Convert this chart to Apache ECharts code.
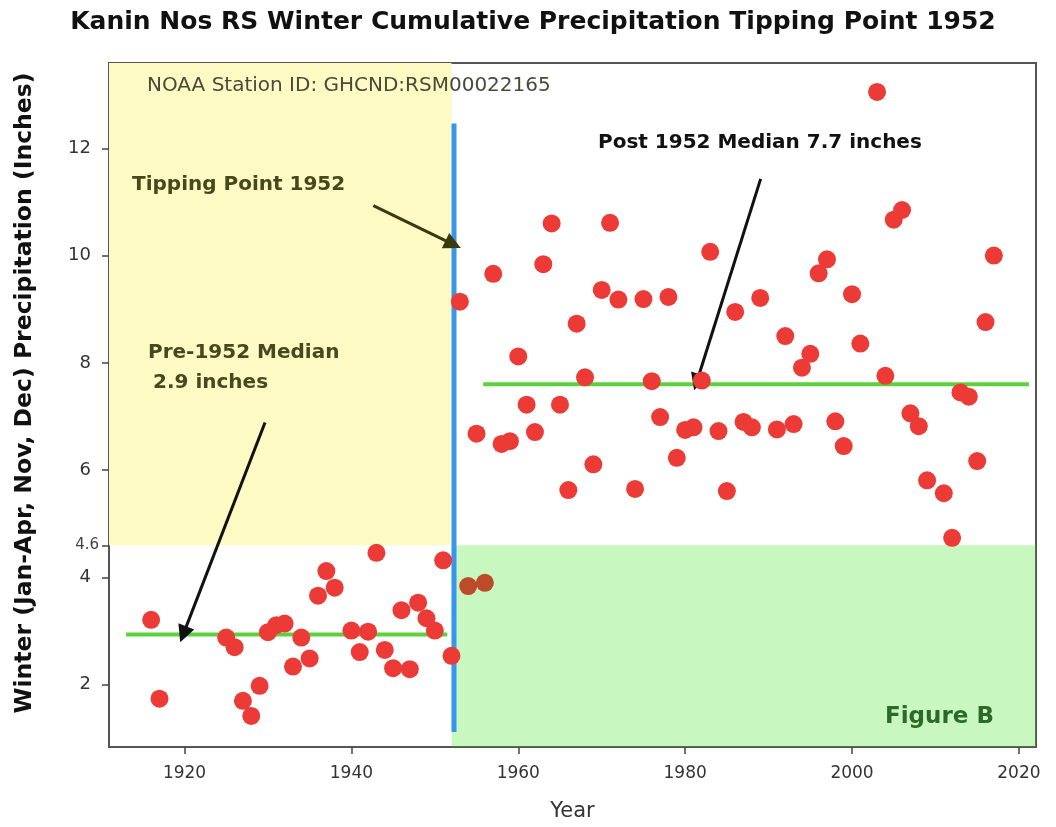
<!DOCTYPE html>
<html>
<head>
<meta charset="utf-8">
<script src="https://cdn.jsdelivr.net/npm/echarts@6/dist/echarts.min.js"></script>
<style>
html,body{margin:0;padding:0;background:#fff;}
#chart{width:1056px;height:827px;}
</style>
</head>
<body>
<div id="chart"></div>
<script>
// ---- data ----
const yearsRed = [1916,1917,1925,1926,1927,1928,1929,1930,1931,1932,1933,1934,1935,1936,1937,1938,1940,1941,1942,1943,1944,1945,1946,1947,1948,1949,1950,1951,1952,
  1953,1955,1957,1958,1959,1960,1961,1962,1963,1964,1965,1966,1967,1968,1969,1970,1971,1972,1974,1975,1976,1977,1978,1979,1980,1981,1982,1983,1984,1985,1986,1987,1988,1989,
  1991,1992,1993,1994,1995,1996,1997,1998,1999,2000,2001,2003,2004,2005,2006,2007,2008,2009,2011,2012,2013,2014,2015,2016,2017];
const precipRed = [3.21,1.74,2.88,2.70,1.70,1.42,1.98,2.98,3.11,3.14,2.34,2.88,2.49,3.66,4.12,3.81,3.01,2.61,2.99,4.46,2.65,2.31,3.39,2.29,3.53,3.24,3.01,4.32,2.54,
  9.14,6.68,9.66,6.49,6.54,8.12,7.22,6.71,9.84,10.60,7.22,5.63,8.73,7.73,6.11,9.36,10.61,9.18,5.65,9.19,7.66,6.99,9.23,6.23,6.75,6.80,7.67,10.07,6.73,5.61,8.95,6.90,6.80,9.21,
  6.76,8.50,6.86,7.91,8.17,9.67,9.93,6.91,6.45,9.28,8.36,13.05,7.76,10.67,10.85,7.06,6.82,5.81,5.57,4.74,7.45,7.37,6.17,8.76,10.00];
const yearsBrown = [1954,1956];
const precipBrown = [3.84,3.90];

const tippingYear = 1952;
const tippingLineX = 1952.3;
const tippingLineRange = [1.12, 12.46];
const threshold = 4.6;
const preMedian = {from:1913, to:1951.5, value:2.935};
const postMedian = {from:1955.8, to:2021.2, value:7.6};

const xTicks = [1920,1940,1960,1980,2000,2020];
const yTicks = [2,4,6,8,10,12];
const yExtraTick = [4.6];

const X_MIN = 1910.95, X_MAX = 2022.05;
const Y_MIN = 0.84, Y_MAX = 13.59;

// arrows [tail, head] in data coordinates
const arrowTipping = [[1942.63,10.93],[1952.2,10.21]];
const arrowPre = [[1929.65,6.89],[1919.85,2.94]];
const arrowPost = [[1989.05,11.43],[1981.38,7.64]];

const FONT = '"DejaVu Sans", Verdana, sans-serif';

const chart = echarts.init(document.getElementById('chart'), null, {renderer:'canvas'});

function arrowSeries(arr, color){
  return {
    type:'scatter', data:[], z:7, silent:true,
    markLine:{
      silent:true, animation:false,
      symbol:['none','triangle'], symbolSize:17,
      label:{show:false},
      itemStyle:{color:color},
      lineStyle:{color:color, width:3, type:'solid', opacity:1},
      data:[[{coord:arr[0]},{coord:arr[1]}]]
    }
  };
}

const option = {
  animation:false,
  backgroundColor:'#fff',
  grid:{left:109, right:20, top:63, bottom:77, show:true, borderColor:'#555', borderWidth:2, backgroundColor:'transparent'},
  xAxis:{
    type:'value', min:X_MIN, max:X_MAX,
    name:'Year', nameLocation:'middle', nameGap:54,
    nameTextStyle:{fontFamily:FONT, fontSize:21, color:'#333'},
    axisLine:{show:true, lineStyle:{color:'#555', width:2}},
    axisTick:{show:true, customValues:xTicks, length:7, lineStyle:{color:'#444', width:1.5}},
    axisLabel:{customValues:xTicks, formatter:v=>String(v), fontFamily:FONT, fontSize:17, color:'#333', margin:18},
    splitLine:{show:false}
  },
  yAxis:[{
    type:'value', min:Y_MIN, max:Y_MAX,
    axisLine:{show:true, lineStyle:{color:'#555', width:2}},
    axisTick:{show:true, customValues:yTicks, length:7, lineStyle:{color:'#444', width:1.5}},
    axisLabel:{customValues:yTicks, formatter:v=>String(v), fontFamily:FONT, fontSize:18, color:'#333', margin:18},
    splitLine:{show:false}
  },{
    type:'value', min:Y_MIN, max:Y_MAX, position:'left',
    axisLine:{show:false},
    axisTick:{show:true, customValues:yExtraTick, length:7, lineStyle:{color:'#444', width:1.5}},
    axisLabel:{customValues:yExtraTick, formatter:v=>String(v), fontFamily:FONT, fontSize:15, color:'#444', margin:10},
    splitLine:{show:false}
  }],
  series:[
    {
      type:'scatter', data:[], z:1, silent:true,
      markArea:{silent:true, itemStyle:{color:'#fdfac3'},
        data:[[{xAxis:X_MIN, yAxis:threshold},{xAxis:tippingYear, yAxis:Y_MAX}]]}
    },
    {
      type:'line', z:2, silent:true, symbol:'none',
      data:[[tippingLineX, tippingLineRange[0]],[tippingLineX, tippingLineRange[1]]],
      lineStyle:{color:'#3797ef', width:5}
    },
    {
      type:'scatter', data:[], z:3, silent:true,
      markArea:{silent:true, itemStyle:{color:'rgba(35,227,3,0.25)'},
        data:[[{xAxis:tippingYear, yAxis:Y_MIN},{xAxis:X_MAX, yAxis:threshold}]]}
    },
    {
      type:'line', z:4, silent:true, symbol:'none',
      data:[[preMedian.from, preMedian.value],[preMedian.to, preMedian.value]],
      lineStyle:{color:'#5ad23c', width:4}
    },
    {
      type:'line', z:4, silent:true, symbol:'none',
      data:[[postMedian.from, postMedian.value],[postMedian.to, postMedian.value]],
      lineStyle:{color:'#5ad23c', width:4}
    },
    {
      type:'scatter', z:5, symbolSize:18,
      data:yearsRed.map((y,i)=>[y, precipRed[i]]),
      itemStyle:{color:'#ec3b36', opacity:1}
    },
    {
      type:'scatter', z:5, symbolSize:18,
      data:yearsBrown.map((y,i)=>[y, precipBrown[i]]),
      itemStyle:{color:'#bd4b2a', opacity:1}
    },
    arrowSeries(arrowTipping, '#3a3a0c'),
    arrowSeries(arrowPre, '#111111'),
    arrowSeries(arrowPost, '#111111')
  ],
  graphic:[
    {type:'text', x:533, y:22, z:100, style:{text:'Kanin Nos RS Winter Cumulative Precipitation Tipping Point 1952', font:'bold 25px '+FONT, fill:'#111', textAlign:'center', textVerticalAlign:'middle'}},
    {type:'text', x:25, y:393, rotation:Math.PI/2, z:100, style:{text:'Winter (Jan-Apr, Nov, Dec) Precipitation (Inches)', font:'bold 23.5px '+FONT, fill:'#111', textAlign:'center', textVerticalAlign:'middle'}},
    {type:'text', x:147, y:86, z:100, style:{text:'NOAA Station ID: GHCND:RSM00022165', font:'20px '+FONT, fill:'#4a4a3a', textAlign:'left', textVerticalAlign:'middle'}},
    {type:'text', x:132, y:185, z:100, style:{text:'Tipping Point 1952', font:'bold 20px '+FONT, fill:'#48481e', textAlign:'left', textVerticalAlign:'middle'}},
    {type:'text', x:148, y:353, z:100, style:{text:'Pre-1952 Median', font:'bold 20px '+FONT, fill:'#48481e', textAlign:'left', textVerticalAlign:'middle'}},
    {type:'text', x:153, y:383, z:100, style:{text:'2.9 inches', font:'bold 20px '+FONT, fill:'#48481e', textAlign:'left', textVerticalAlign:'middle'}},
    {type:'text', x:598, y:143, z:100, style:{text:'Post 1952 Median 7.7 inches', font:'bold 20px '+FONT, fill:'#111', textAlign:'left', textVerticalAlign:'middle'}},
    {type:'text', x:885, y:717, z:100, style:{text:'Figure B', font:'bold 23px '+FONT, fill:'#2d6a2a', textAlign:'left', textVerticalAlign:'middle'}}
  ]
};
chart.setOption(option);
</script>
</body>
</html>
